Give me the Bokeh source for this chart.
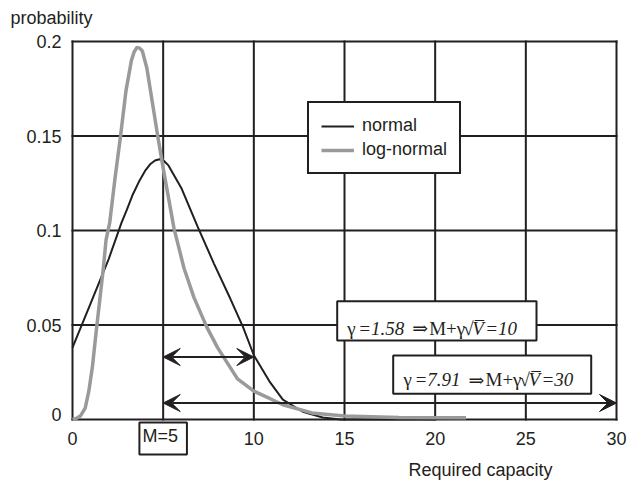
from bokeh.plotting import figure
from bokeh.models import (Legend, LegendItem, Label, BoxAnnotation, Arrow, VeeHead,
                          Range1d, ColumnDataSource)
from bokeh.core.properties import value
from bokeh.embed import file_html
from bokeh.resources import INLINE

# ---------------- data ----------------
x_ticks = [0, 5, 10, 15, 20, 25, 30]
x_tick_labels = ["0", "", "10", "15", "20", "25", "30"]
y_ticks = [0, 0.05, 0.1, 0.15, 0.2]
y_tick_labels = ["0", "0.05", "0.1", "0.15", "0.2"]

normal_x = [0, 1.0, 2.0, 2.7, 3.0, 3.3, 3.7, 4.0, 4.3, 4.55, 4.8, 5.05, 5.3, 5.55,
            6.0, 6.9, 7.8, 8.7, 9.4, 10.0, 10.9, 11.6, 12.7, 13.8, 14.8, 17.0, 20.0]
normal_y = [0.038, 0.0615, 0.085, 0.104, 0.111, 0.1185, 0.1265, 0.1315, 0.1352, 0.137,
            0.1377, 0.1368, 0.1343, 0.130, 0.1225, 0.102, 0.0825, 0.064, 0.049, 0.034,
            0.0196, 0.0105, 0.0041, 0.0011, 0.0, 0.0, 0.0]

lognormal_x = [0.0, 0.2, 0.45, 0.7, 0.9, 1.1, 1.3, 1.5, 1.7, 1.85, 2.05, 2.35, 2.65,
               2.95, 3.25, 3.4, 3.55, 3.7, 3.85, 4.1, 4.4, 4.7, 5.0, 5.3, 5.6, 6.15,
               6.7, 7.4, 8.0, 9.1, 10.0, 10.9, 11.6, 13.2, 15.0, 18.0, 21.7]
lognormal_y = [0.0, 0.0005, 0.002, 0.006, 0.015, 0.028, 0.046, 0.063, 0.080, 0.095,
               0.104, 0.128, 0.150, 0.174, 0.190, 0.1945, 0.1968, 0.1965, 0.195, 0.186,
               0.168, 0.150, 0.133, 0.117, 0.101, 0.080, 0.0645, 0.049, 0.038, 0.0215,
               0.015, 0.011, 0.0078, 0.0035, 0.0018, 0.0011, 0.0009]

mean_M = 5
gamma_vals = [1.58, 7.91]
capacity_vals = [10, 30]

# ---------------- layout helpers (pixel -> data) ----------------
W, H = 627, 485
PX_X0, PX_X30 = 72.0, 616.0
PX_Y0, PX_Y02 = 419.0, 41.0
PXU = (PX_X30 - PX_X0) / 30.0
PYU = (PX_Y0 - PX_Y02) / 0.2


def px2x(px):
    return (px - PX_X0) / PXU


def py2y(py):
    return (PX_Y0 - py) / PYU


BLACK = "#231f20"
GRAY = "#9a9a9a"
SANS = "Liberation Sans"
SERIF = "Liberation Serif"

p = figure(width=W, height=H, x_range=Range1d(px2x(0), px2x(W)),
           y_range=Range1d(py2y(H), py2y(0)),
           x_axis_location=None, y_axis_location=None,
           output_backend="svg", toolbar_location=None,
           min_border_left=0, min_border_right=0, min_border_top=0, min_border_bottom=0)
p.background_fill_color = "white"
p.border_fill_color = "white"
p.outline_line_color = None
p.grid.visible = False

# grid / frame lines from the tick arrays
n_x, n_y = len(x_ticks), len(y_ticks)
p.segment(x0=x_ticks, y0=[y_ticks[0]] * n_x, x1=x_ticks, y1=[y_ticks[-1]] * n_x,
          line_color=BLACK, line_width=2, line_cap="square")
p.segment(x0=[x_ticks[0]] * n_y, y0=y_ticks, x1=[x_ticks[-1]] * n_y, y1=y_ticks,
          line_color=BLACK, line_width=2, line_cap="square")

# tick labels
xl = ColumnDataSource(dict(x=x_ticks, y=[py2y(438)] * n_x, t=x_tick_labels))
p.text(x="x", y="y", text="t", source=xl, text_font=value(SANS),
       text_font_size=value("18px"), text_color=BLACK,
       text_align=value("center"), text_baseline=value("middle"))
yl = ColumnDataSource(dict(x=[px2x(61)] * n_y, y=y_ticks, t=y_tick_labels,
                           dy=[-5] + [0] * (n_y - 1)))
p.text(x="x", y="y", text="t", source=yl, y_offset="dy", text_font=value(SANS),
       text_font_size=value("18px"), text_color=BLACK,
       text_align=value("right"), text_baseline=value("middle"))

# curves
r_norm = p.line(normal_x, normal_y, line_color=BLACK, line_width=2)
r_log = p.line(lognormal_x, lognormal_y, line_color=GRAY, line_width=3.5)

legend = Legend(items=[LegendItem(label="normal", renderers=[r_norm]),
                       LegendItem(label="log-normal", renderers=[r_log])],
                location=(307, H - 174), margin=0, padding=12, spacing=3,
                glyph_width=33, glyph_height=20, label_height=20, label_standoff=8,
                label_text_font=SANS, label_text_font_size="18px",
                label_text_color=BLACK,
                border_line_color=BLACK, border_line_width=2, border_line_alpha=1.0,
                background_fill_color="white", background_fill_alpha=1.0)
p.add_layout(legend)

# arrows
arrow_y = [py2y(356.5), py2y(402.5)]
for cap, ay in zip(capacity_vals, arrow_y):
    p.add_layout(Arrow(x_start=mean_M, x_end=cap, y_start=ay, y_end=ay,
                       line_color=BLACK, line_width=2,
                       start=VeeHead(size=17, fill_color=BLACK, line_color=BLACK),
                       end=VeeHead(size=17, fill_color=BLACK, line_color=BLACK)))

# formula boxes (pixel boxes of the reference)
boxes_px = [(336.7, 536.0, 300.7, 340.0), (392.7, 590.7, 355.0, 393.3)]
text_px = [(346.7, 327.7), (403.0, 379.3)]
for (l, r, t, b), (tx, ty), g, cap in zip(boxes_px, text_px, gamma_vals, capacity_vals):
    p.add_layout(BoxAnnotation(left=px2x(l), right=px2x(r), bottom=py2y(b), top=py2y(t),
                               fill_color="white", fill_alpha=1.0,
                               line_color=BLACK, line_width=2, line_alpha=1.0))
    segs = [("\u03b3", "normal", SERIF, 0),
            ("=%.2f" % g, "italic", SERIF, 11),
            ("\u21d2", "normal", "DejaVu Serif", 65),
            ("M+\u03b3", "normal", SERIF, 82),
            ("\u221a", "normal", SERIF, 116),
            ("V\u0305", "italic", SERIF, 125),
            ("=%d" % cap, "italic", SERIF, 138)]
    for txt, style, font, off in segs:
        p.add_layout(Label(x=px2x(tx), y=py2y(ty), x_offset=off, text=txt,
                           text_font=font, text_font_style=style,
                           text_font_size="19px", text_color=BLACK,
                           text_align="left", text_baseline="alphabetic"))

# boxed M=5 tick label
p.add_layout(Label(x=mean_M, y=py2y(438), text="M=%d" % mean_M, text_font=SANS,
                   text_font_size="18px", text_color=BLACK, text_align="center",
                   text_baseline="middle", border_line_color=BLACK,
                   border_line_width=2, background_fill_color="white",
                   padding=(3, 9, 3, 9)))

# axis titles
p.add_layout(Label(x=px2x(10), y=py2y(17), text="probability", text_font=SANS,
                   text_font_size="18px", text_color=BLACK, text_align="left",
                   text_baseline="middle"))
p.add_layout(Label(x=px2x(408), y=py2y(469), text="Required capacity", text_font=SANS,
                   text_font_size="18px", text_color=BLACK, text_align="left",
                   text_baseline="middle"))

open("out.html", "w").write(file_html(p, INLINE))
